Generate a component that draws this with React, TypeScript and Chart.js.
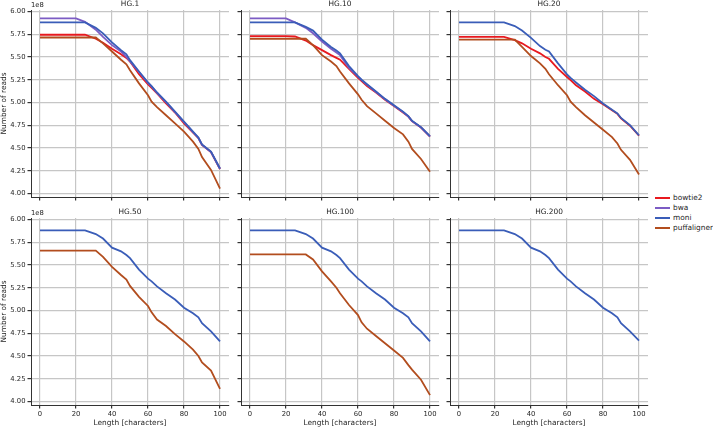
import React, { useEffect, useRef } from "react";
import { Chart, registerables } from "chart.js";

Chart.register(...registerables);

// ---------- data ----------
const LENGTHS = [0, 20, 25, 31, 35, 40, 45, 48, 50, 55, 60, 62, 65, 70, 75, 80, 85, 88, 90, 95, 100];
const X_TICKS = [0, 20, 40, 60, 80, 100];
const Y_TICKS = [4.0, 4.25, 4.5, 4.75, 5.0, 5.25, 5.5, 5.75, 6.0];
const PANEL_TITLES = ["HG.1", "HG.10", "HG.20", "HG.50", "HG.100", "HG.200"];
const SERIES_NAMES = ["bowtie2", "bwa", "moni", "puffaligner"];
const SERIES_COLORS = ["#e8191f", "#7c5cc4", "#3a5db8", "#b24d1e"];
const Y_OFFSET_TEXT = "1e8";

// values in units of 1e8 reads
const HG1_BOWTIE2 = [5.744, 5.744, 5.744, 5.70, 5.656, 5.59, 5.53, 5.49, 5.45, 5.31, 5.20, 5.16, 5.10, 4.99, 4.89, 4.77, 4.67, 4.61, 4.535, 4.455, 4.27];
const HG1_BWA = [5.923, 5.923, 5.886, 5.80, 5.72, 5.63, 5.56, 5.50, 5.45, 5.335, 5.215, 5.175, 5.105, 5.005, 4.895, 4.785, 4.675, 4.61, 4.535, 4.455, 4.27];
const HG1_MONI = [5.879, 5.879, 5.879, 5.82, 5.76, 5.66, 5.575, 5.53, 5.465, 5.34, 5.22, 5.18, 5.11, 5.01, 4.90, 4.79, 4.68, 4.615, 4.54, 4.46, 4.275];
const HG1_PUFF = [5.714, 5.714, 5.714, 5.714, 5.65, 5.56, 5.47, 5.42, 5.355, 5.21, 5.08, 5.01, 4.95, 4.86, 4.77, 4.68, 4.57, 4.49, 4.40, 4.26, 4.055];

const HG10_BOWTIE2 = [5.729, 5.729, 5.725, 5.68, 5.63, 5.575, 5.52, 5.49, 5.47, 5.37, 5.27, 5.235, 5.18, 5.11, 5.03, 4.96, 4.89, 4.845, 4.795, 4.725, 4.625];
const HG10_BWA = [5.923, 5.923, 5.88, 5.82, 5.76, 5.67, 5.59, 5.55, 5.52, 5.38, 5.285, 5.245, 5.195, 5.115, 5.035, 4.965, 4.895, 4.845, 4.795, 4.725, 4.625];
const HG10_MONI = [5.879, 5.879, 5.879, 5.83, 5.79, 5.69, 5.61, 5.57, 5.54, 5.40, 5.29, 5.25, 5.20, 5.12, 5.04, 4.97, 4.90, 4.85, 4.80, 4.73, 4.63];
const HG10_PUFF = [5.70, 5.70, 5.70, 5.70, 5.63, 5.52, 5.45, 5.40, 5.34, 5.21, 5.09, 5.03, 4.96, 4.88, 4.80, 4.72, 4.65, 4.57, 4.49, 4.38, 4.24];

const HG20_BOWTIE2 = [5.72, 5.72, 5.72, 5.685, 5.65, 5.59, 5.54, 5.50, 5.48, 5.37, 5.28, 5.245, 5.19, 5.12, 5.04, 4.98, 4.915, 4.875, 4.825, 4.745, 4.635];
const HG20_MONI = [5.879, 5.879, 5.879, 5.84, 5.79, 5.71, 5.62, 5.58, 5.56, 5.43, 5.31, 5.27, 5.22, 5.14, 5.07, 4.99, 4.92, 4.88, 4.83, 4.75, 4.64];
const HG20_PUFF = [5.69, 5.69, 5.69, 5.69, 5.61, 5.51, 5.43, 5.37, 5.31, 5.19, 5.08, 5.01, 4.95, 4.86, 4.78, 4.70, 4.62, 4.55, 4.48, 4.37, 4.21];

const HG50_MONI = [5.879, 5.879, 5.879, 5.84, 5.79, 5.69, 5.65, 5.61, 5.575, 5.45, 5.35, 5.32, 5.265, 5.19, 5.12, 5.03, 4.97, 4.925, 4.86, 4.77, 4.66];
const HG50_PUFF = [5.658, 5.658, 5.658, 5.658, 5.59, 5.48, 5.39, 5.34, 5.27, 5.15, 5.05, 4.98, 4.90, 4.83, 4.74, 4.66, 4.57, 4.50, 4.43, 4.34, 4.14];

const HG100_MONI = [5.879, 5.879, 5.879, 5.84, 5.79, 5.69, 5.65, 5.61, 5.575, 5.45, 5.35, 5.32, 5.265, 5.19, 5.12, 5.03, 4.97, 4.925, 4.86, 4.77, 4.66];
const HG100_PUFF = [5.616, 5.616, 5.616, 5.616, 5.56, 5.43, 5.32, 5.25, 5.19, 5.06, 4.95, 4.87, 4.80, 4.72, 4.64, 4.56, 4.48, 4.40, 4.35, 4.24, 4.07];

const HG200_MONI = [5.879, 5.879, 5.879, 5.84, 5.79, 5.69, 5.65, 5.61, 5.575, 5.45, 5.35, 5.32, 5.265, 5.19, 5.12, 5.03, 4.97, 4.925, 4.86, 4.77, 4.67];

// per panel: [bowtie2, bwa, moni, puffaligner]
const PANEL_SERIES: (number[] | null)[][] = [
  [HG1_BOWTIE2, HG1_BWA, HG1_MONI, HG1_PUFF],
  [HG10_BOWTIE2, HG10_BWA, HG10_MONI, HG10_PUFF],
  [HG20_BOWTIE2, null, HG20_MONI, HG20_PUFF],
  [null, null, HG50_MONI, HG50_PUFF],
  [null, null, HG100_MONI, HG100_PUFF],
  [null, null, HG200_MONI, null],
];

// ---------- layout ----------
const FONT = "'DejaVu Sans', sans-serif";
const TEXT = "#262626";
const GRID = "#c6c6c6";
const COL_PLOT_LEFT = [31, 241, 450];
const ROW_CANVAS_TOP = [0, 208];
const Y_AXIS_W = 31;
const PLOT_W = 198;
const PAD_TOP = 10;
const PLOT_H = 187;
const CANVAS_H = 220;

function Panel({ index }: { index: number }) {
  const ref = useRef<HTMLCanvasElement | null>(null);
  const row = Math.floor(index / 3);
  const col = index % 3;

  useEffect(() => {
    if (!ref.current) return;
    const series = PANEL_SERIES[index];
    const datasets: any[] = [];
    series.forEach((vals, i) => {
      if (!vals) return;
      datasets.push({
        label: SERIES_NAMES[i],
        data: LENGTHS.map((x, j) => ({ x, y: vals[j] })),
        borderColor: SERIES_COLORS[i],
        backgroundColor: SERIES_COLORS[i],
        borderWidth: 1.8,
        pointRadius: 0,
        tension: 0,
        fill: false,
        // later series are drawn on top (like matplotlib)
        order: SERIES_NAMES.length - i,
      });
    });

    const titlePlugin = {
      id: "panelTitle",
      afterDraw(chart: any) {
        const { ctx, chartArea } = chart;
        ctx.save();
        ctx.fillStyle = TEXT;
        ctx.font = `7.4px ${FONT}`;
        ctx.textAlign = "center";
        ctx.textBaseline = "middle";
        ctx.fillText(PANEL_TITLES[index], (chartArea.left + chartArea.right) / 2, chartArea.top - 5.5);
        if (col === 0) {
          ctx.font = `6.8px ${FONT}`;
          ctx.textAlign = "left";
          ctx.fillText(Y_OFFSET_TEXT, chartArea.left, chartArea.top - 4.5);
        }
        ctx.restore();
      },
    };

    const chart = new Chart(ref.current, {
      type: "line",
      data: { datasets },
      plugins: [titlePlugin],
      options: {
        responsive: false,
        animation: false,
        devicePixelRatio: 1,
        layout: { padding: { top: PAD_TOP, right: 2, left: 0, bottom: 0 } },
        plugins: {
          legend: { display: false },
          tooltip: { enabled: false },
          title: { display: false },
        },
        scales: {
          x: {
            type: "linear",
            min: -5,
            max: 105,
            afterBuildTicks: (s: any) => {
              s.ticks = X_TICKS.map((v) => ({ value: v }));
            },
            afterFit: (s: any) => {
              s.height = CANVAS_H - PAD_TOP - PLOT_H;
            },
            grid: { color: GRID, lineWidth: 1.2, tickColor: "#333333", tickLength: 3.5, drawTicks: true },
            border: { display: true, color: "#333333", width: 1 },
            ticks: {
              display: row === 1,
              autoSkip: false,
              maxRotation: 0,
              padding: 1.5,
              color: TEXT,
              font: { family: FONT, size: 6.8 },
              callback: (v: any) => String(v),
            },
            title: {
              display: row === 1,
              text: "Length [characters]",
              color: TEXT,
              font: { family: FONT, size: 7.4 },
              padding: { top: 0, bottom: 0.5 },
            },
          },
          y: {
            type: "linear",
            min: 3.962,
            max: 6.016,
            afterBuildTicks: (s: any) => {
              s.ticks = Y_TICKS.map((v) => ({ value: v }));
            },
            afterFit: (s: any) => {
              s.width = Y_AXIS_W;
            },
            grid: { color: GRID, lineWidth: 1.2, tickColor: "#333333", tickLength: 3.5, drawTicks: true },
            border: { display: true, color: "#333333", width: 1 },
            ticks: {
              display: col === 0,
              autoSkip: false,
              padding: 2,
              color: TEXT,
              font: { family: FONT, size: 6.8 },
              callback: (v: any) => Number(v).toFixed(2),
            },
            title: {
              display: col === 0,
              text: "Number of reads",
              color: TEXT,
              font: { family: FONT, size: 7.4 },
              padding: { top: 0, bottom: 0 },
            },
          },
        },
      } as any,
    });
    return () => chart.destroy();
  }, [index]);

  const w = Y_AXIS_W + PLOT_W + 2;
  return (
    <canvas
      ref={ref}
      width={w}
      height={CANVAS_H}
      style={{
        position: "absolute",
        left: COL_PLOT_LEFT[col] - Y_AXIS_W,
        top: ROW_CANVAS_TOP[row],
        width: w,
        height: CANVAS_H,
      }}
    />
  );
}

function Legend() {
  return (
    <div style={{ position: "absolute", left: 655, top: 193, fontFamily: FONT, fontSize: 7.4, color: TEXT }}>
      {SERIES_NAMES.map((n, i) => (
        <div key={n} style={{ display: "flex", alignItems: "center", height: 10 }}>
          <div style={{ width: 15, height: 2, background: SERIES_COLORS[i], marginRight: 3 }} />
          <span style={{ lineHeight: "10px" }}>{n}</span>
        </div>
      ))}
    </div>
  );
}

export default function App() {
  return (
    <div style={{ position: "absolute", left: 0, top: 0, width: 713, height: 428, background: "#ffffff", overflow: "hidden" }}>
      {[0, 1, 2, 3, 4, 5].map((i) => (
        <Panel key={i} index={i} />
      ))}
      <Legend />
    </div>
  );
}
